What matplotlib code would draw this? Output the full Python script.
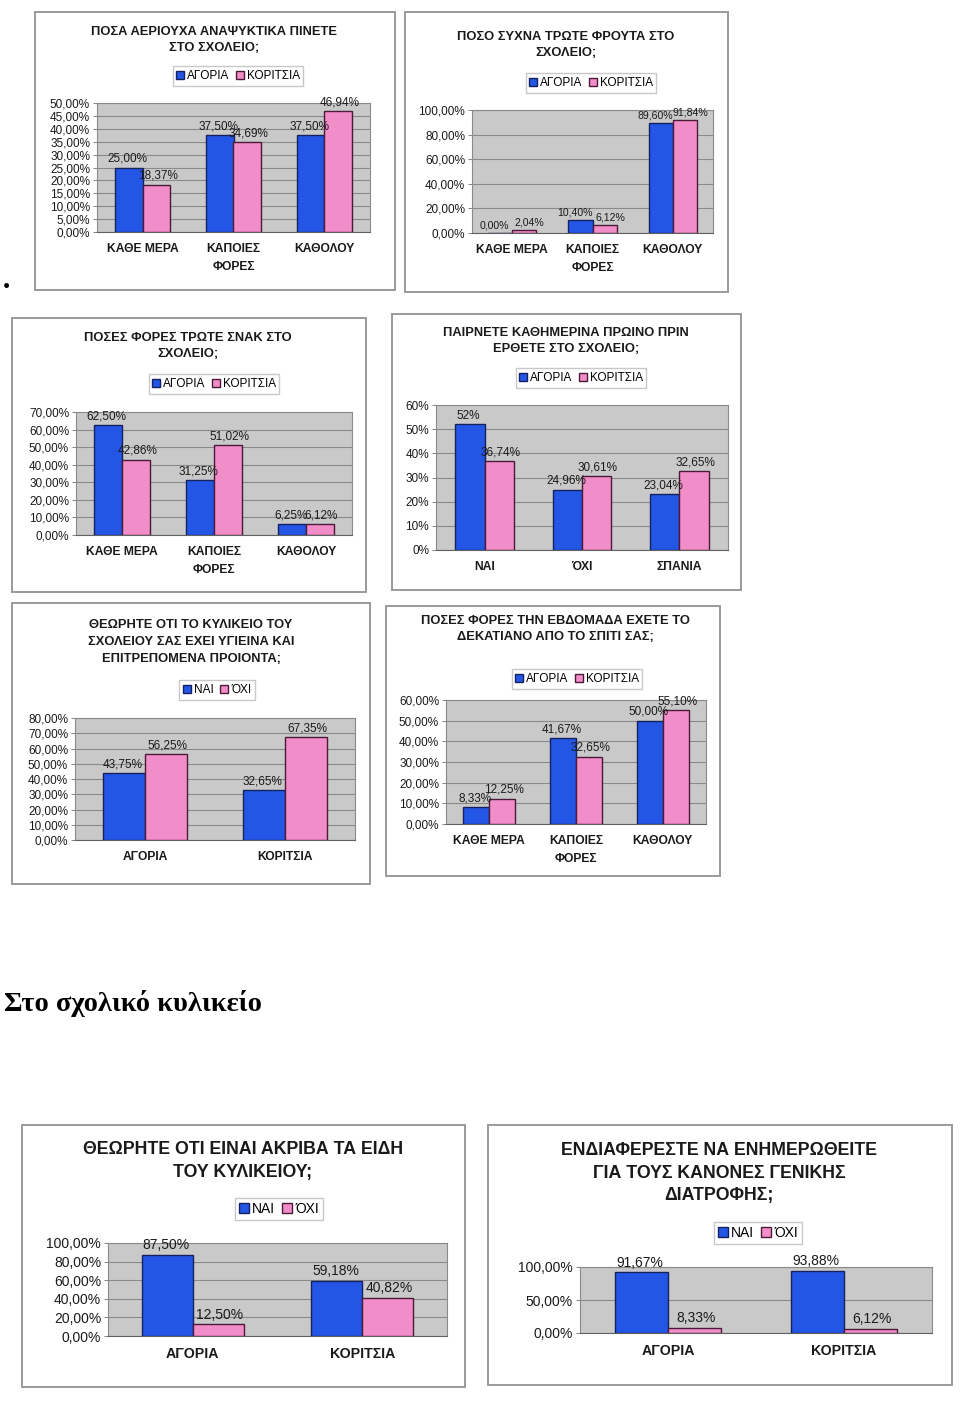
import numpy as np
import matplotlib
matplotlib.use("Agg")
import matplotlib.pyplot as plt
from matplotlib.patches import Rectangle

plt.rcParams['font.family'] = ['Liberation Sans', 'DejaVu Sans']

W, H = 960, 1402

# ---------------------------------------------------------------- data
cats_freq = ["ΚΑΘΕ ΜΕΡΑ", "ΚΑΠΟΙΕΣ\nΦΟΡΕΣ", "ΚΑΘΟΛΟΥ"]
cats_breakfast = ["ΝΑΙ", "ΌΧΙ", "ΣΠΑΝΙΑ"]
cats_sex = ["ΑΓΟΡΙΑ", "ΚΟΡΙΤΣΙΑ"]
series_sex = ["ΑΓΟΡΙΑ", "ΚΟΡΙΤΣΙΑ"]
series_yesno = ["ΝΑΙ", "ΌΧΙ"]

title1 = "ΠΟΣΑ ΑΕΡΙΟΥΧΑ ΑΝΑΨΥΚΤΙΚΑ ΠΙΝΕΤΕ\nΣΤΟ ΣΧΟΛΕΙΟ;"
drinks_boys = [25.00, 37.50, 37.50]
drinks_girls = [18.37, 34.69, 46.94]

title2 = "ΠΟΣΟ ΣΥΧΝΑ ΤΡΩΤΕ ΦΡΟΥΤΑ ΣΤΟ\nΣΧΟΛΕΙΟ;"
fruit_boys = [0.00, 10.40, 89.60]
fruit_girls = [2.04, 6.12, 91.84]

title3 = "ΠΟΣΕΣ ΦΟΡΕΣ ΤΡΩΤΕ ΣΝΑΚ ΣΤΟ\nΣΧΟΛΕΙΟ;"
snack_boys = [62.50, 31.25, 6.25]
snack_girls = [42.86, 51.02, 6.12]

title4 = "ΠΑΙΡΝΕΤΕ ΚΑΘΗΜΕΡΙΝΑ ΠΡΩΙΝΟ ΠΡΙΝ\nΕΡΘΕΤΕ ΣΤΟ ΣΧΟΛΕΙΟ;"
breakfast_boys = [52, 24.96, 23.04]
breakfast_girls = [36.74, 30.61, 32.65]

title5 = "ΘΕΩΡΗΤΕ ΟΤΙ ΤΟ ΚΥΛΙΚΕΙΟ ΤΟΥ\nΣΧΟΛΕΙΟΥ ΣΑΣ ΕΧΕΙ ΥΓΙΕΙΝΑ ΚΑΙ\nΕΠΙΤΡΕΠΟΜΕΝΑ ΠΡΟΙΟΝΤΑ;"
healthy_yes = [43.75, 32.65]
healthy_no = [56.25, 67.35]

title6 = "ΠΟΣΕΣ ΦΟΡΕΣ ΤΗΝ ΕΒΔΟΜΑΔΑ ΕΧΕΤΕ ΤΟ\nΔΕΚΑΤΙΑΝΟ ΑΠΟ ΤΟ ΣΠΙΤΙ ΣΑΣ;"
homesnack_boys = [8.33, 41.67, 50.00]
homesnack_girls = [12.25, 32.65, 55.10]

title7 = "ΘΕΩΡΗΤΕ ΟΤΙ ΕΙΝΑΙ ΑΚΡΙΒΑ ΤΑ ΕΙΔΗ\nΤΟΥ ΚΥΛΙΚΕΙΟΥ;"
price_yes = [87.50, 59.18]
price_no = [12.50, 40.82]

title8 = "ΕΝΔΙΑΦΕΡΕΣΤΕ ΝΑ ΕΝΗΜΕΡΩΘΕΙΤΕ\nΓΙΑ ΤΟΥΣ ΚΑΝΟΝΕΣ ΓΕΝΙΚΗΣ\nΔΙΑΤΡΟΦΗΣ;"
info_yes = [91.67, 93.88]
info_no = [8.33, 6.12]

heading = "Στο σχολικό κυλικείο"

BLUE = "#2456e6"
BLUE_EDGE = "#14215e"
PINK = "#f18dc8"
PINK_EDGE = "#4a1a38"


def fx(x):
    return x / W


def fy(y):
    return 1 - y / H


def pct2(v):
    return ("%.2f%%" % v).replace(".", ",")


def pct_short(v):
    return ("%g%%" % v).replace(".", ",")


def chart(fig, frame, plot, title, title_xy, cats, names, a, b, ymax, ystep,
          legend_xy, fs=8.5, tfs=9.3, tls=1.55, tickfmt=pct2, labfmt=pct2,
          labfs=None, nudge=1):
    x0, y0, x1, y1 = frame
    fig.add_artist(Rectangle((fx(x0), fy(y1)), fx(x1 - x0), (y1 - y0) / H,
                             transform=fig.transFigure, facecolor="white",
                             edgecolor="#9a9a9a", lw=1.4, zorder=0))
    fig.text(fx(title_xy[0]), fy(title_xy[1]), title, ha="center", va="center",
             fontsize=tfs, fontweight="bold", linespacing=tls, color="#1a1a1a")
    px0, py0, px1, py1 = plot
    ax = fig.add_axes([fx(px0), fy(py1), fx(px1 - px0), (py1 - py0) / H])
    ax.set_facecolor("#c9c9c9")
    x = np.arange(len(cats))
    bw = 0.3
    b1 = ax.bar(x - bw / 2, a, bw, color=BLUE, edgecolor=BLUE_EDGE, lw=1.0, zorder=3, label=names[0])
    b2 = ax.bar(x + bw / 2, b, bw, color=PINK, edgecolor=PINK_EDGE, lw=1.0, zorder=3, label=names[1])
    # labels sit centred over each bar, nudged apart a little
    for bars, vals, dx in ((b1, a, -nudge), (b2, b, nudge)):
        for r, v in zip(bars, vals):
            ax.annotate(labfmt(v), (r.get_x() + r.get_width() / 2, v), xytext=(dx, 2),
                        textcoords="offset points", ha="center", va="bottom",
                        fontsize=labfs or fs, color="#1a1a1a", zorder=5,
                        annotation_clip=False)
    ax.set_xlim(-0.5, len(cats) - 0.5)
    ax.set_ylim(0, ymax)
    ticks = np.arange(0, ymax + ystep / 2, ystep)
    ax.set_yticks(ticks)
    ax.set_yticklabels([tickfmt(t) for t in ticks], fontsize=fs, color="#1a1a1a")
    ax.set_xticks(x)
    ax.set_xticklabels(cats, fontsize=fs + 0.2, fontweight="bold", color="#1a1a1a", linespacing=1.6)
    ax.tick_params(axis="x", length=0, pad=8)
    ax.tick_params(axis="y", length=3, width=0.6, color="#707070", pad=2)
    ax.grid(axis="y", color="#8a8a8a", lw=0.8, zorder=1)
    ax.set_axisbelow(True)
    for s in ax.spines.values():
        s.set_color("#8a8a8a")
        s.set_linewidth(0.8)
    ax.spines["bottom"].set_color("#606060")
    ax.legend(handles=[b1, b2], loc="center", ncol=2,
              bbox_to_anchor=(fx(legend_xy[0]), fy(legend_xy[1])),
              bbox_transform=fig.transFigure, fontsize=fs, frameon=True,
              fancybox=False, edgecolor="#c8c8c8", framealpha=1,
              handlelength=0.7, handleheight=0.7, handletextpad=0.25,
              columnspacing=0.5, borderpad=0.3, borderaxespad=0)
    return ax


fig = plt.figure(figsize=(W / 100, H / 100), dpi=100)

chart(fig, (35, 12, 395, 290), (97, 103, 370, 232), title1, (214, 40),
      cats_freq, series_sex, drinks_boys, drinks_girls, 50, 5, (238, 76))
chart(fig, (405, 12, 728, 292), (472, 110, 713, 233), title2, (566, 45),
      cats_freq, series_sex, fruit_boys, fruit_girls, 100, 20, (591, 83),
      labfs=7.6, nudge=4)
chart(fig, (12, 318, 366, 592), (76, 412, 352, 535), title3, (188, 346),
      cats_freq, series_sex, snack_boys, snack_girls, 70, 10, (214, 384))
chart(fig, (392, 314, 741, 590), (436, 405, 728, 550), title4, (566, 341),
      cats_breakfast, series_sex, breakfast_boys, breakfast_girls, 60, 10, (581, 378),
      tickfmt=lambda t: "%d%%" % t, labfmt=pct_short)
chart(fig, (12, 603, 370, 884), (75, 718, 355, 840), title5, (191, 642),
      cats_sex, series_yesno, healthy_yes, healthy_no, 80, 10, (217, 690))
chart(fig, (386, 606, 720, 876), (446, 700, 706, 824), title6, (555, 629),
      cats_freq, series_sex, homesnack_boys, homesnack_girls, 60, 10, (577, 679))
chart(fig, (22, 1125, 465, 1387), (108, 1243, 447, 1336), title7, (243, 1161),
      cats_sex, series_yesno, price_yes, price_no, 100, 20, (279, 1209),
      fs=10, tfs=12.8, tls=1.4)
chart(fig, (488, 1125, 952, 1385), (580, 1267, 932, 1333), title8, (719, 1173),
      cats_sex, series_yesno, info_yes, info_no, 100, 50, (758, 1233),
      fs=10, tfs=12.8, tls=1.45)

fig.text(fx(3), fy(289), "•", fontsize=15, ha="left", va="center",
         family=["Liberation Serif", "DejaVu Serif"])
fig.text(fx(4), fy(1011), heading, fontsize=20.5, fontweight="bold", ha="left", va="baseline",
         family=["Liberation Serif", "DejaVu Serif"])

fig.savefig("out.png", dpi=100)
